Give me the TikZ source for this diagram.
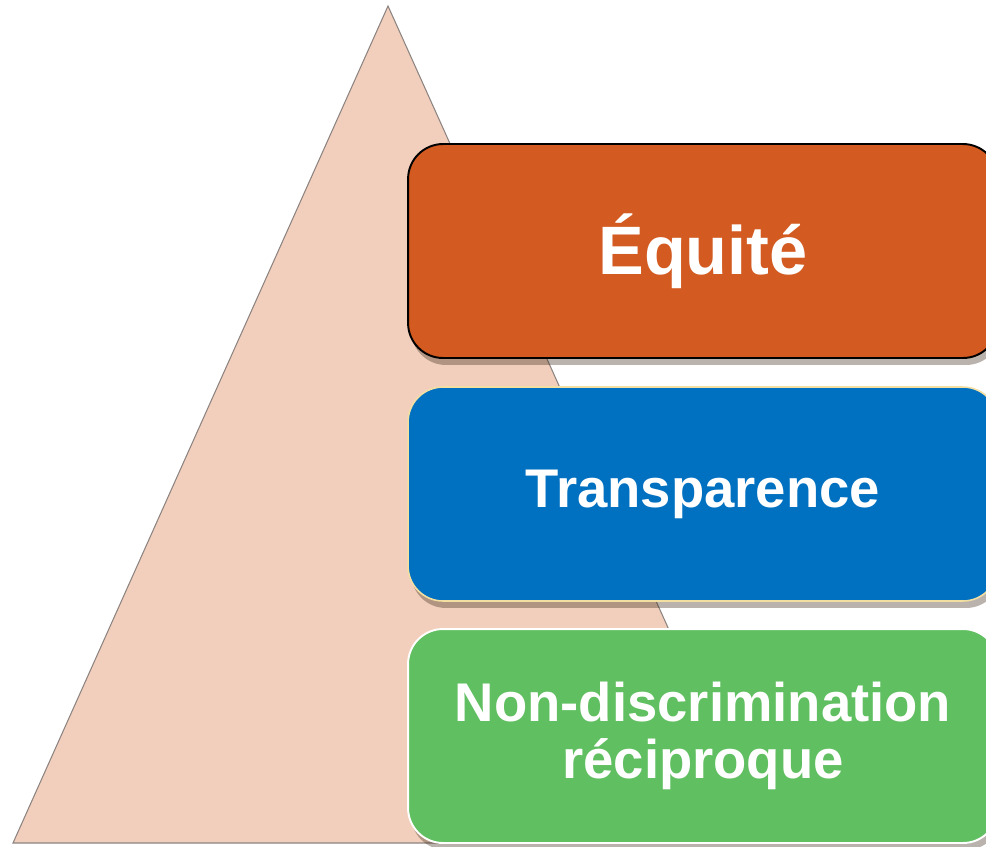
\documentclass[tikz,border=0pt]{standalone}
\usepackage{fontspec}
\setmainfont{Liberation Sans}
\usepackage{tikz}
\usetikzlibrary{shadows}

\definecolor{pyrfill}{HTML}{F2CFBD}
\definecolor{pyredge}{HTML}{8C8480}
\definecolor{equitecol}{HTML}{D35A20}
\definecolor{transcol}{HTML}{0070C0}
\definecolor{nondiscol}{HTML}{60BF60}
\definecolor{paleyellow}{HTML}{F3DFA2}

\tikzset{
  pyramid/.style={fill=pyrfill, draw=pyredge, line width=0.6pt},
  levelbox/.style={rectangle, rounded corners=0.7cm, minimum width=11.8cm,
    minimum height=4.28cm, inner sep=0pt, text=white, align=center,
    font=\bfseries\fontsize{31}{32.5}\selectfont,
    drop shadow={shadow xshift=0.6mm, shadow yshift=-1.4mm, opacity=0.35, fill=black!70!brown}}
}

\begin{document}
\begin{tikzpicture}[x=0.02cm, y=-0.02cm]
  \useasboundingbox (0,0) rectangle (986,846);

  % background pyramid
  \draw[pyramid] (13,843) -- (388,6) -- (765,843) -- cycle;

  % the three principles
  \node[levelbox, fill=equitecol, draw=black, line width=1.1pt,
        font=\bfseries\fontsize{39}{42}\selectfont] (equite) at (703,251) {Équité};
  \node[levelbox, fill=transcol, draw=paleyellow, line width=0.9pt] (transp) at (703,494) {Transparence};
  \node[levelbox, fill=nondiscol, draw=white, line width=1.1pt] (nondisc) at (703,736) {Non-discrimination\\réciproque};
\end{tikzpicture}
\end{document}
